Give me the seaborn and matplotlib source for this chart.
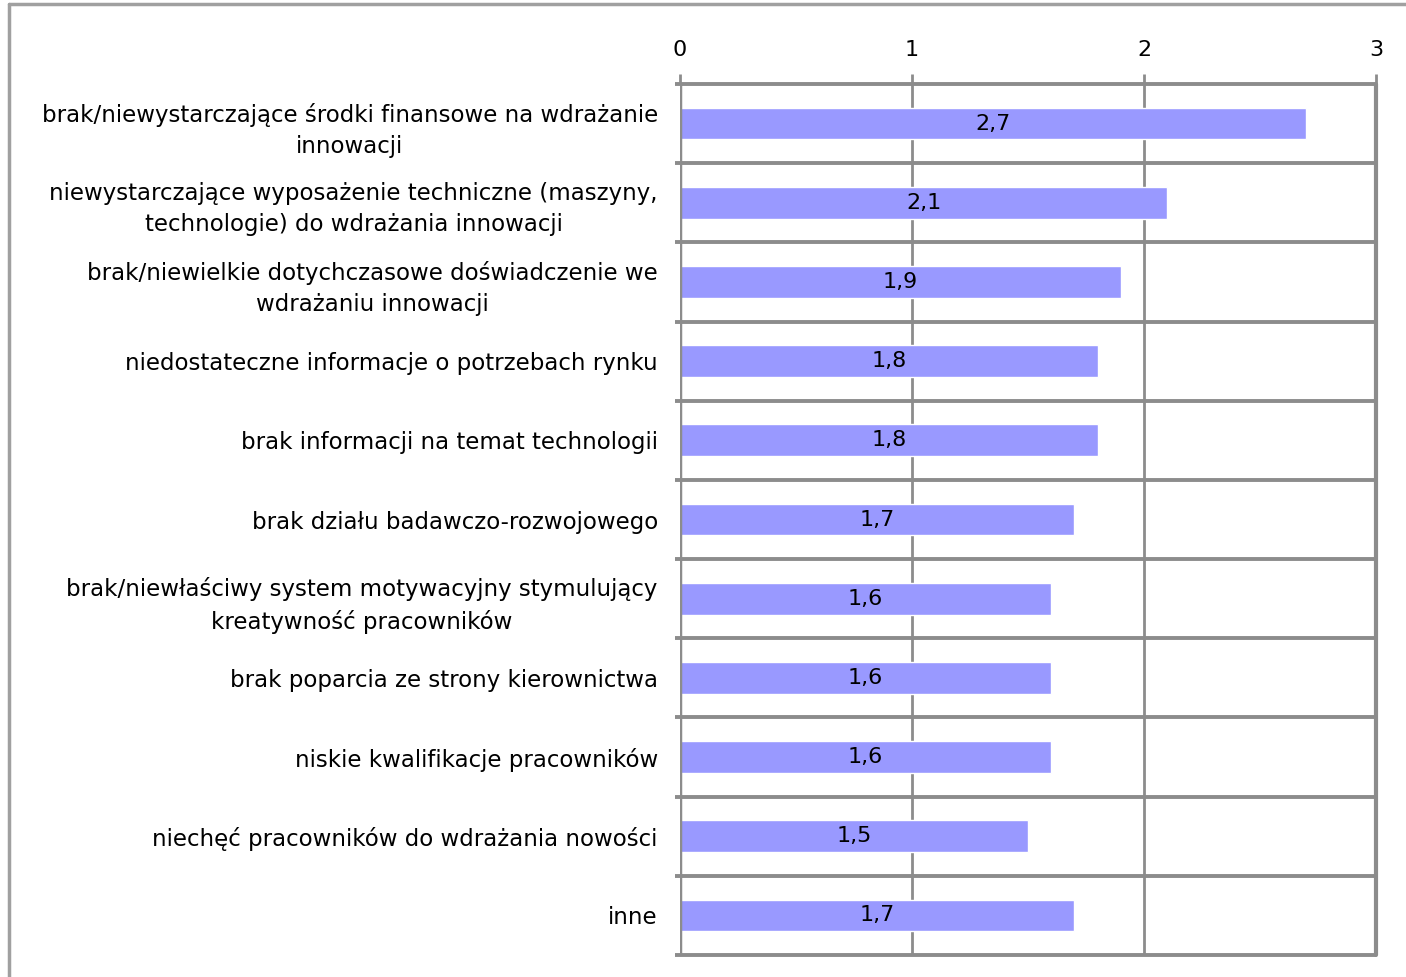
import numpy as np
import pandas as pd
import matplotlib
matplotlib.use("Agg")
import matplotlib.pyplot as plt
import seaborn as sns

# data
categories = [
    "brak/niewystarczające środki finansowe na wdrażanie\ninnowacji",
    "niewystarczające wyposażenie techniczne (maszyny,\ntechnologie) do wdrażania innowacji",
    "brak/niewielkie dotychczasowe doświadczenie we\nwdrażaniu innowacji",
    "niedostateczne informacje o potrzebach rynku",
    "brak informacji na temat technologii",
    "brak działu badawczo-rozwojowego",
    "brak/niewłaściwy system motywacyjny stymulujący\nkreatywność pracowników",
    "brak poparcia ze strony kierownictwa",
    "niskie kwalifikacje pracowników",
    "niechęć pracowników do wdrażania nowości",
    "inne",
]
values = [2.7, 2.1, 1.9, 1.8, 1.8, 1.7, 1.6, 1.6, 1.6, 1.5, 1.7]
x_ticks = [0, 1, 2, 3]

df = pd.DataFrame({"kategoria": categories, "wartosc": values})

sns.set_style("white")
plt.rcParams["font.family"] = ["DejaVu Sans"]
plt.rcParams["text.color"] = "black"
plt.rcParams["xtick.labelcolor"] = "black"
plt.rcParams["ytick.labelcolor"] = "black"

grid_col = "#8c8c8c"
bar_col = "#9999ff"

fig = plt.figure(figsize=(14.06, 9.77), dpi=100)
ax = fig.add_axes([680 / 1406, 1 - 955 / 977, 696 / 1406, 871 / 977])

sns.barplot(data=df, y="kategoria", x="wartosc", orient="h", color=bar_col,
            width=0.4, saturation=1, ax=ax)

n = len(categories)
ax.set_xlim(0, 3)
ax.set_ylim(n - 0.5, -0.5)

# gridlines
for xv in x_ticks[1:-1]:
    ax.axvline(xv, color=grid_col, lw=2, zorder=0)
ax.axvline(3, color=grid_col, lw=3, zorder=3, clip_on=False)
ax.axvline(0, color=grid_col, lw=2.5, zorder=3)
for k in range(n + 1):
    ax.plot([-0.02, 3], [k - 0.5, k - 0.5], color=grid_col, lw=2.8,
            clip_on=False, zorder=1, solid_capstyle="butt")

for s in ax.spines.values():
    s.set_visible(False)

ax.xaxis.tick_top()
ax.set_xticks(x_ticks)
ax.set_xticklabels([str(t) for t in x_ticks], fontsize=16)
ax.tick_params(axis="x", length=7, width=2, color=grid_col, pad=10)
ax.tick_params(axis="y", length=0, pad=16)
ax.set_yticklabels(categories, fontsize=16.5, multialignment="center", linespacing=1.45)
ax.set_xlabel("")
ax.set_ylabel("")

for i, v in enumerate(values):
    ax.text(v / 2, i, f"{v:.1f}".replace(".", ","), ha="center", va="center",
            fontsize=16, zorder=5)

# outer frame of the original picture
fig.add_artist(plt.Line2D([9 / 1406, 9 / 1406], [0, 1 - 4 / 977],
                          transform=fig.transFigure, color="#a0a0a0", lw=2.5))
fig.add_artist(plt.Line2D([9 / 1406, 1], [1 - 4 / 977, 1 - 4 / 977],
                          transform=fig.transFigure, color="#a0a0a0", lw=2.5))

fig.savefig("out.png", dpi=100)
